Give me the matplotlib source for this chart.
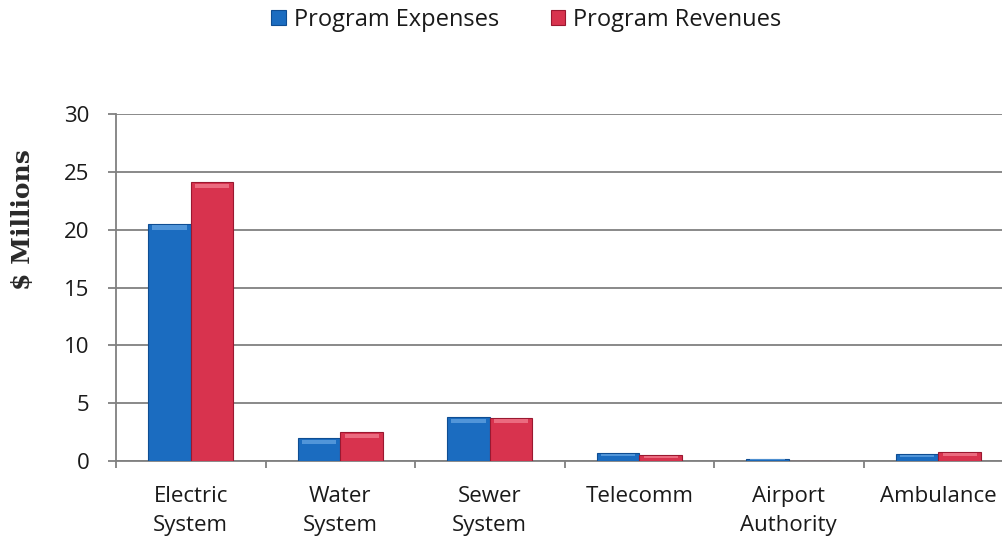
import numpy as np
import matplotlib.pyplot as plt

categories = ["Electric\nSystem", "Water\nSystem", "Sewer\nSystem",
              "Telecomm", "Airport\nAuthority", "Ambulance"]
expenses = [20.5, 1.95, 3.8, 0.7, 0.2, 0.6]
revenues = [24.1, 2.5, 3.75, 0.5, 0.0, 0.8]
series_names = ["Program Expenses", "Program Revenues"]
yticks = [0, 5, 10, 15, 20, 25, 30]

FONT = ["Open Sans", "DejaVu Sans"]
plt.rcParams['font.family'] = FONT
TXT = "#1a1a1a"
GRID = "#808080"

fig = plt.figure(figsize=(10.03, 5.42), dpi=100)
ax = fig.add_axes([0.1157, 0.1494, 0.8943, 0.6403])

x = np.arange(len(categories))
w = 0.285
blue, blue_edge = "#1b6cc0", "#0f4d92"
red, red_edge = "#d8334e", "#9a1830"

b1 = ax.bar(x - w / 2, expenses, w, color=blue, edgecolor=blue_edge, linewidth=0.8, zorder=3)
b2 = ax.bar(x + w / 2, revenues, w, color=red, edgecolor=red_edge, linewidth=0.8, zorder=3)

# light bevel strip along the top of each bar
for bars, hl in ((b1, "#5fa0e0"), (b2, "#f07a8c")):
    for r in bars:
        h = r.get_height()
        if h <= 0:
            continue
        t = min(0.35, h * 0.3)
        ax.bar(r.get_x() + r.get_width() / 2, t, r.get_width() * 0.8,
               bottom=h - t * 1.4, color=hl, linewidth=0, zorder=4, alpha=0.8)

ax.set_xlim(-0.5, len(categories) - 0.5)
ax.set_ylim(0, 30)
ax.set_yticks(yticks)
ax.set_yticklabels([str(v) for v in yticks], fontsize=16, color=TXT)
ax.yaxis.grid(True, color=GRID, linewidth=1.3, zorder=0)
ax.set_axisbelow(True)

ax.set_xticks(x)
ax.set_xticklabels(categories, fontsize=16, color=TXT, va="top", linespacing=1.5)
ax.set_xticks(np.arange(len(categories) + 1) - 0.5, minor=True)
ax.tick_params(axis="x", which="major", length=0, pad=18)
ax.tick_params(axis="x", which="minor", length=5, color=GRID, width=1.3)
ax.tick_params(axis="y", length=6, color=GRID, width=1.3, pad=13)

for s in ("top", "right"):
    ax.spines[s].set_visible(False)
for s in ("left", "bottom"):
    ax.spines[s].set_color(GRID)
    ax.spines[s].set_linewidth(1.3)

fig.text(0.023, 0.594, "$ Millions", rotation=90, fontsize=18, fontweight="bold",
         family=["DejaVu Serif"], color="#2a2a2a",
         ha="center", va="center")

ax.legend([b1, b2], series_names, loc="center", bbox_to_anchor=(0.525, 0.963),
          bbox_transform=fig.transFigure, ncol=2, frameon=False, fontsize=17,
          labelcolor=TXT, handlelength=0.6, handleheight=0.6,
          columnspacing=2.2, handletextpad=0.35)

fig.savefig("out.png", dpi=100)
